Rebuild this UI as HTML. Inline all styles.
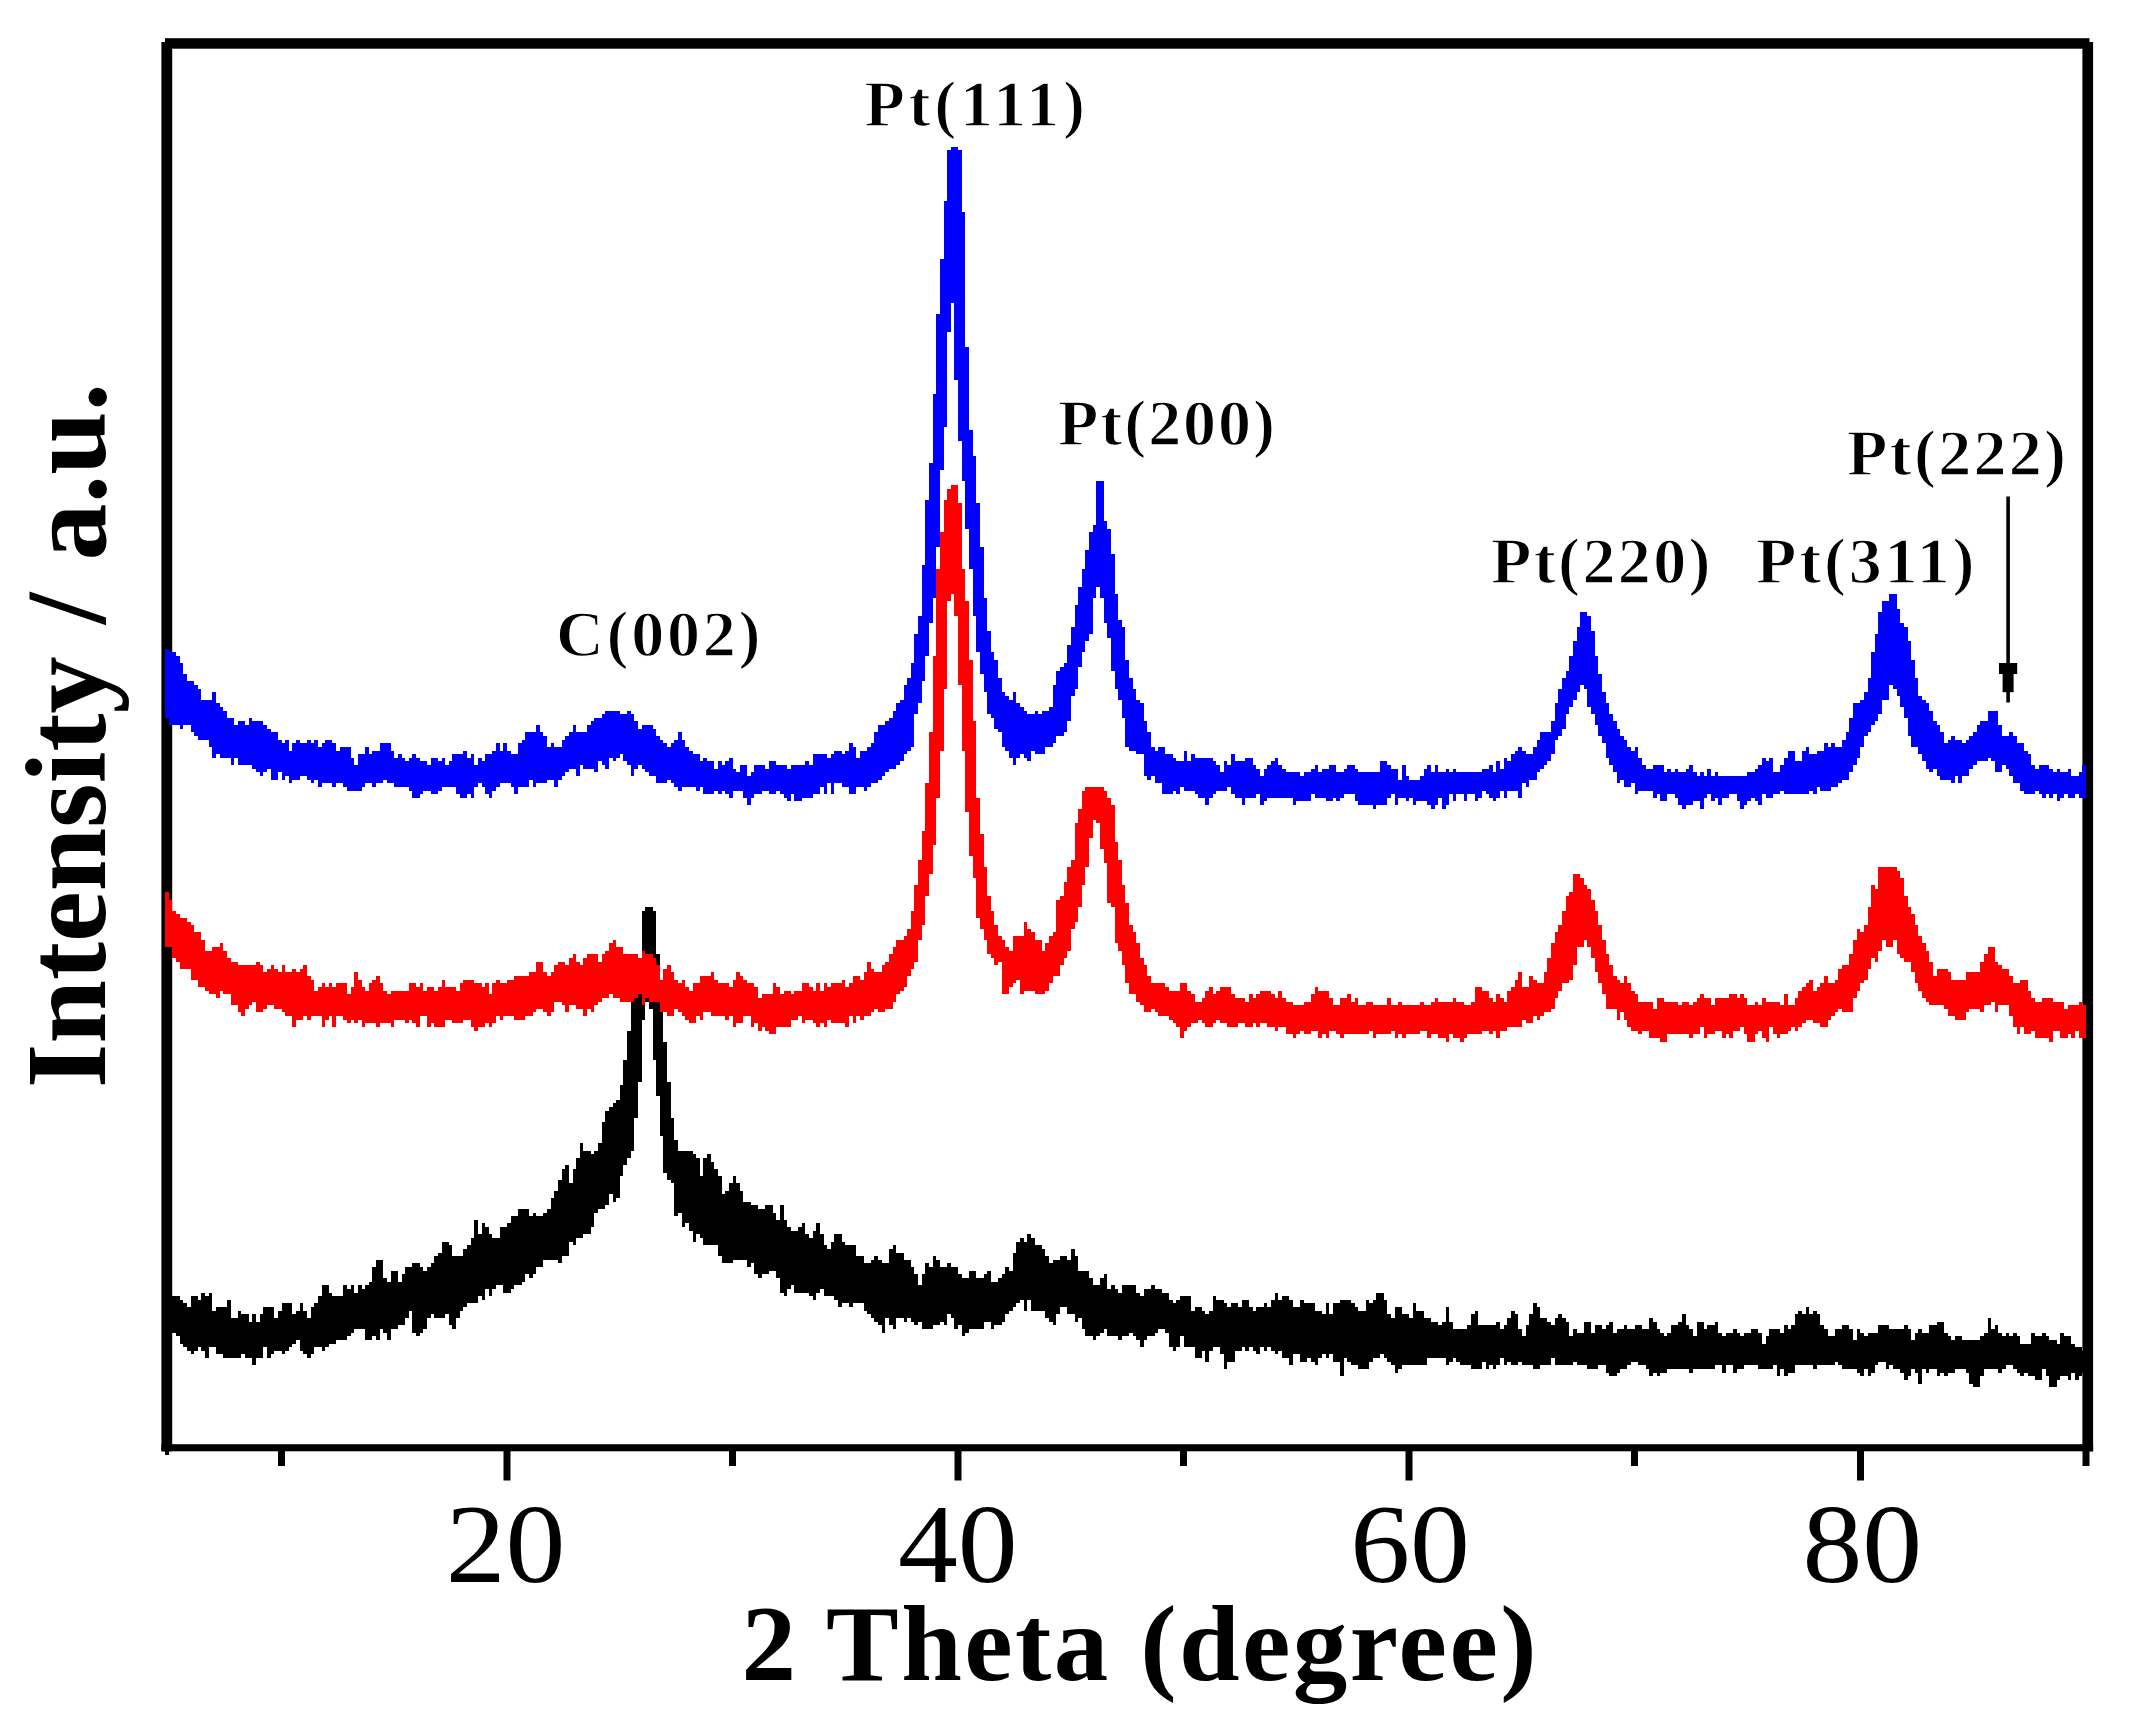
<!DOCTYPE html>
<html><head><meta charset="utf-8"><title>XRD</title>
<style>
html,body{margin:0;padding:0;background:#fff;overflow:hidden;width:2134px;height:1727px}
svg{display:block}
text{font-family:"Liberation Serif", "Times New Roman", serif;fill:#000}
</style></head>
<body>
<svg width="2134" height="1727" viewBox="0 0 2134 1727">
<rect width="2134" height="1727" fill="#fff"/>
<g fill="#000">
<rect x="165" y="38.2" width="1924.5" height="10.5"/>
<rect x="161.4" y="42" width="10.8" height="1409.3"/>
<rect x="2082.4" y="42" width="10.7" height="1409.3"/>
<rect x="161.4" y="1444.2" width="1931.7" height="7.1"/>
<rect x="503.5" y="1448" width="7" height="32.5"/><rect x="954.5" y="1448" width="7" height="32.5"/><rect x="1405.5" y="1448" width="7" height="32.5"/><rect x="1857.0" y="1448" width="7" height="32.5"/><rect x="278.0" y="1448" width="7" height="18"/><rect x="729.0" y="1448" width="7" height="18"/><rect x="1180.0" y="1448" width="7" height="18"/><rect x="1631.0" y="1448" width="7" height="18"/><rect x="165" y="1448" width="4" height="7"/><rect x="2082.5" y="1448" width="7" height="18"/>
<rect x="2006.3" y="496.5" width="3.6" height="206"/>
<rect x="1999" y="663" width="18.2" height="11"/>
<rect x="2002.6" y="674" width="11" height="18.2"/>
</g>
<g transform="translate(1.4 1.2) scale(3.6377)" shape-rendering="crispEdges">
<path fill="#000" d="M46 355h1v9h-1zM47 356h1v10h-1zM48 356h1v11h-1zM49 357h1v12h-1zM50 358h1v12h-1zM51 359h1v12h-1zM52 356h1v16h-1zM53 356h1v15h-1zM54 357h1v13h-1zM55 355h1v16h-1zM56 356h1v17h-1zM57 355h1v15h-1zM58 360h1v10h-1zM59 359h2v13h-2zM61 359h1v14h-1zM62 357h1v16h-1zM63 362h2v11h-2zM65 360h1v13h-1zM66 361h1v11h-1zM67 361h1v12h-1zM68 363h1v10h-1zM69 361h1v14h-1zM70 363h1v10h-1zM71 361h1v12h-1zM72 359h1v11h-1zM73 359h1v14h-1zM74 359h1v13h-1zM75 362h1v9h-1zM76 360h1v11h-1zM77 358h1v14h-1zM78 358h1v13h-1zM79 358h1v12h-1zM80 361h1v8h-1zM81 360h1v8h-1zM82 358h1v13h-1zM83 360h1v12h-1zM84 362h1v11h-1zM85 359h1v13h-1zM86 358h1v12h-1zM87 356h1v14h-1zM88 353h1v18h-1zM89 353h1v17h-1zM90 355h1v14h-1zM91 356h1v13h-1zM92 356h2v12h-2zM94 353h1v15h-1zM95 354h1v13h-1zM96 353h1v13h-1zM97 355h1v10h-1zM98 353h1v12h-1zM99 354h1v11h-1zM100 353h1v15h-1zM101 352h1v16h-1zM102 348h1v19h-1zM103 346h1v22h-1zM104 346h1v19h-1zM105 351h1v15h-1zM106 352h1v16h-1zM107 349h2v16h-2zM109 352h1v12h-1zM110 350h1v14h-1zM111 348h1v14h-1zM112 348h1v12h-1zM113 347h1v19h-1zM114 347h1v20h-1zM115 348h1v18h-1zM116 349h1v16h-1zM117 348h1v14h-1zM118 347h1v14h-1zM119 345h1v17h-1zM120 344h1v18h-1zM121 341h1v21h-1zM122 341h1v20h-1zM123 342h1v22h-1zM124 345h1v20h-1zM125 345h1v17h-1zM126 345h1v15h-1zM127 343h1v16h-1zM128 342h1v16h-1zM129 340h1v18h-1zM130 335h1v23h-1zM131 339h1v17h-1zM132 336h1v21h-1zM133 337h1v17h-1zM134 339h1v17h-1zM135 340h1v14h-1zM136 340h1v13h-1zM137 337h1v16h-1zM138 337h1v18h-1zM139 336h1v19h-1zM140 334h1v20h-1zM141 334h1v19h-1zM142 332h1v21h-1zM143 332h1v20h-1zM144 332h1v18h-1zM145 334h1v17h-1zM146 333h1v17h-1zM147 334h2v14h-2zM149 333h1v13h-1zM150 332h1v14h-1zM151 329h1v17h-1zM152 327h1v19h-1zM153 324h1v23h-1zM154 321h1v24h-1zM155 320h1v25h-1zM156 325h1v16h-1zM157 321h1v21h-1zM158 318h1v22h-1zM159 314h1v26h-1zM160 316h2v23h-2zM162 317h1v20h-1zM163 316h1v17h-1zM164 314h1v18h-1zM165 308h1v24h-1zM166 305h1v26h-1zM167 304h1v24h-1zM168 303h1v27h-1zM169 302h1v27h-1zM170 298h1v25h-1zM171 291h1v29h-1zM172 283h1v35h-1zM173 275h1v41h-1zM174 271h1v36h-1zM175 266h1v31h-1zM176 250h1v30h-1zM177 249h1v26h-1zM178 249h1v28h-1zM179 250h1v41h-1zM180 262h1v39h-1zM181 271h1v41h-1zM182 286h1v36h-1zM183 297h1v27h-1zM184 307h1v18h-1zM185 313h1v21h-1zM186 316h1v17h-1zM187 316h1v21h-1zM188 316h1v20h-1zM189 316h1v22h-1zM190 317h1v24h-1zM191 318h1v21h-1zM192 323h1v17h-1zM193 318h1v24h-1zM194 317h1v25h-1zM195 319h1v23h-1zM196 321h1v21h-1zM197 323h1v22h-1zM198 328h1v19h-1zM199 327h1v20h-1zM200 325h1v22h-1zM201 323h1v23h-1zM202 325h1v21h-1zM203 327h1v19h-1zM204 330h1v16h-1zM205 330h1v18h-1zM206 331h1v16h-1zM207 331h1v19h-1zM208 332h1v19h-1zM209 332h1v18h-1zM210 331h1v19h-1zM211 331h1v18h-1zM212 333h1v16h-1zM213 335h1v16h-1zM214 331h1v24h-1zM215 335h1v21h-1zM216 337h1v17h-1zM217 338h1v15h-1zM218 338h1v17h-1zM219 337h1v18h-1zM220 336h1v19h-1zM221 339h1v16h-1zM222 340h1v16h-1zM223 338h1v19h-1zM224 336h1v19h-1zM225 339h1v15h-1zM226 342h1v14h-1zM227 343h1v13h-1zM228 341h1v15h-1zM229 339h1v18h-1zM230 339h1v20h-1zM231 341h1v17h-1zM232 342h1v16h-1zM233 342h1v17h-1zM234 342h1v16h-1zM235 345h2v13h-2zM237 347h1v13h-1zM238 347h1v14h-1zM239 346h1v16h-1zM240 345h1v18h-1zM241 346h1v18h-1zM242 347h1v19h-1zM243 347h1v15h-1zM244 343h1v21h-1zM245 342h1v23h-1zM246 344h2v18h-2zM248 346h1v17h-1zM249 346h1v16h-1zM250 348h1v15h-1zM251 350h1v14h-1zM252 353h1v10h-1zM253 350h1v15h-1zM254 347h1v18h-1zM255 348h1v17h-1zM256 345h1v19h-1zM257 346h1v18h-1zM258 348h1v15h-1zM259 348h1v16h-1zM260 347h1v14h-1zM261 348h1v14h-1zM262 348h1v17h-1zM263 350h1v14h-1zM264 351h1v16h-1zM265 351h1v15h-1zM266 349h2v16h-2zM268 351h2v14h-2zM270 350h1v13h-1zM271 349h1v14h-1zM272 352h1v13h-1zM273 352h1v12h-1zM274 351h1v13h-1zM275 350h1v13h-1zM276 348h1v13h-1zM277 349h1v11h-1zM278 344h1v15h-1zM279 341h1v17h-1zM280 340h1v17h-1zM281 341h1v19h-1zM282 339h1v18h-1zM283 340h1v20h-1zM284 342h2v18h-2zM286 343h1v17h-1zM287 345h1v17h-1zM288 347h1v16h-1zM289 346h1v18h-1zM290 346h1v15h-1zM291 345h2v14h-2zM293 346h1v15h-1zM294 343h1v18h-1zM295 345h1v18h-1zM296 349h1v13h-1zM297 349h1v16h-1zM298 349h1v18h-1zM299 351h1v16h-1zM300 353h1v15h-1zM301 353h1v14h-1zM302 351h1v15h-1zM303 350h1v15h-1zM304 354h1v13h-1zM305 353h1v14h-1zM306 354h1v13h-1zM307 355h1v13h-1zM308 353h2v14h-2zM310 353h1v13h-1zM311 353h1v14h-1zM312 355h1v13h-1zM313 356h1v14h-1zM314 354h1v14h-1zM315 354h1v13h-1zM316 353h1v14h-1zM317 354h1v12h-1zM318 354h1v11h-1zM319 355h1v10h-1zM320 355h1v11h-1zM321 357h1v13h-1zM322 358h1v13h-1zM323 357h1v13h-1zM324 356h1v11h-1zM325 356h2v14h-2zM327 360h1v10h-1zM328 359h2v14h-2zM330 360h1v11h-1zM331 361h1v13h-1zM332 360h1v11h-1zM333 356h1v14h-1zM334 357h1v13h-1zM335 357h1v15h-1zM336 358h1v18h-1zM337 359h1v15h-1zM338 358h1v16h-1zM339 358h1v13h-1zM340 359h1v12h-1zM341 357h1v13h-1zM342 357h1v14h-1zM343 359h1v11h-1zM344 360h1v11h-1zM345 359h1v13h-1zM346 359h1v11h-1zM347 358h1v13h-1zM348 359h1v11h-1zM349 357h1v14h-1zM350 355h1v17h-1zM351 357h1v14h-1zM352 356h2v17h-2zM354 357h1v18h-1zM355 359h2v13h-2zM357 357h1v17h-1zM358 358h1v16h-1zM359 358h1v15h-1zM360 358h1v16h-1zM361 360h1v15h-1zM362 360h1v13h-1zM363 361h1v11h-1zM364 358h1v15h-1zM365 361h1v11h-1zM366 358h2v16h-2zM368 357h1v21h-1zM369 357h1v16h-1zM370 357h1v17h-1zM371 358h1v17h-1zM372 359h1v16h-1zM373 360h2v16h-2zM375 357h1v19h-1zM376 358h1v16h-1zM377 357h1v16h-1zM378 355h1v18h-1zM379 355h1v17h-1zM380 357h1v16h-1zM381 361h1v13h-1zM382 362h1v13h-1zM383 359h1v18h-1zM384 359h1v17h-1zM385 361h2v14h-2zM387 362h1v13h-1zM388 358h1v17h-1zM389 360h2v15h-2zM391 362h1v13h-1zM392 362h1v11h-1zM393 363h2v10h-2zM395 364h1v9h-1zM396 363h1v10h-1zM397 359h1v16h-1zM398 363h1v11h-1zM399 365h1v8h-1zM400 365h1v9h-1zM401 365h2v10h-2zM403 364h1v11h-1zM404 361h1v15h-1zM405 360h1v16h-1zM406 364h1v12h-1zM407 364h1v10h-1zM408 364h1v12h-1zM409 364h1v11h-1zM410 364h1v12h-1zM411 363h1v12h-1zM412 365h1v8h-1zM413 364h1v11h-1zM414 362h1v12h-1zM415 360h1v15h-1zM416 361h1v14h-1zM417 365h1v9h-1zM418 367h1v8h-1zM419 364h1v11h-1zM420 361h1v14h-1zM421 358h1v18h-1zM422 359h1v17h-1zM423 362h2v13h-2zM425 363h1v12h-1zM426 364h1v9h-1zM427 362h1v13h-1zM428 361h1v14h-1zM429 362h1v13h-1zM430 363h1v12h-1zM431 367h1v8h-1zM432 365h1v9h-1zM433 366h2v9h-2zM435 363h1v12h-1zM436 363h1v13h-1zM437 366h1v10h-1zM438 364h1v12h-1zM439 364h1v11h-1zM440 365h1v10h-1zM441 364h1v13h-1zM442 363h1v15h-1zM443 366h1v12h-1zM444 365h1v12h-1zM445 365h1v11h-1zM446 364h1v12h-1zM447 365h1v10h-1zM448 365h1v9h-1zM449 364h1v10h-1zM450 364h1v11h-1zM451 365h1v10h-1zM452 365h1v11h-1zM453 362h1v16h-1zM454 363h1v14h-1zM455 365h1v13h-1zM456 366h1v11h-1zM457 367h1v10h-1zM458 366h1v10h-1zM459 364h2v12h-2zM461 363h1v13h-1zM462 361h1v15h-1zM463 364h1v12h-1zM464 365h1v12h-1zM465 367h1v9h-1zM466 363h2v13h-2zM468 365h1v11h-1zM469 364h2v12h-2zM471 363h1v12h-1zM472 366h1v9h-1zM473 367h1v10h-1zM474 366h2v9h-2zM476 365h1v12h-1zM477 366h1v10h-1zM478 367h1v9h-1zM479 366h2v9h-2zM481 365h2v10h-2zM483 366h1v10h-1zM484 369h1v7h-1zM485 367h1v9h-1zM486 365h1v11h-1zM487 365h1v10h-1zM488 365h1v13h-1zM489 366h1v10h-1zM490 364h1v14h-1zM491 365h1v12h-1zM492 364h1v13h-1zM493 361h1v14h-1zM494 360h1v15h-1zM495 361h1v14h-1zM496 359h1v16h-1zM497 361h1v14h-1zM498 360h1v16h-1zM499 361h1v14h-1zM500 364h1v11h-1zM501 365h1v10h-1zM502 367h2v8h-2zM504 365h1v9h-1zM505 365h1v10h-1zM506 364h2v12h-2zM508 365h1v11h-1zM509 368h1v8h-1zM510 365h1v12h-1zM511 366h1v12h-1zM512 367h1v9h-1zM513 366h1v12h-1zM514 366h1v11h-1zM515 366h1v9h-1zM516 364h2v10h-2zM518 364h1v12h-1zM519 365h1v10h-1zM520 365h2v11h-2zM522 365h1v12h-1zM523 364h1v15h-1zM524 365h1v13h-1zM525 368h1v8h-1zM526 366h1v11h-1zM527 365h1v15h-1zM528 366h1v10h-1zM529 366h1v11h-1zM530 364h2v12h-2zM532 363h1v15h-1zM533 363h1v14h-1zM534 366h1v12h-1zM535 367h1v10h-1zM536 368h1v9h-1zM537 367h2v9h-2zM539 368h1v8h-1zM540 368h1v9h-1zM541 368h1v12h-1zM542 368h2v13h-2zM544 367h1v11h-1zM545 366h1v10h-1zM546 362h1v14h-1zM547 365h1v11h-1zM548 364h1v12h-1zM549 366h1v11h-1zM550 367h1v9h-1zM551 366h1v9h-1zM552 367h1v8h-1zM553 366h1v10h-1zM554 367h1v10h-1zM555 369h1v9h-1zM556 369h1v8h-1zM557 369h1v9h-1zM558 366h1v12h-1zM559 367h2v12h-2zM561 366h1v10h-1zM562 367h1v11h-1zM563 368h2v13h-2zM565 369h1v10h-1zM566 366h1v12h-1zM567 367h1v11h-1zM568 367h1v12h-1zM569 369h1v8h-1zM570 370h1v9h-1zM571 370h1v8h-1zM572 371h1v6h-1z"/>
<path fill="#fe0000" d="M45 245h1v15h-1zM46 247h1v13h-1zM47 250h1v13h-1zM48 251h1v13h-1zM49 252h2v14h-2zM51 253h1v13h-1zM52 254h1v15h-1zM53 256h1v13h-1zM54 256h1v15h-1zM55 258h1v13h-1zM56 261h1v11h-1zM57 261h1v12h-1zM58 260h1v13h-1zM59 260h1v14h-1zM60 259h1v13h-1zM61 261h1v12h-1zM62 263h1v10h-1zM63 264h2v12h-2zM65 265h1v13h-1zM66 265h1v14h-1zM67 265h1v12h-1zM68 265h1v11h-1zM69 265h1v10h-1zM70 264h1v14h-1zM71 265h1v13h-1zM72 267h1v10h-1zM73 266h1v10h-1zM74 265h1v11h-1zM75 266h1v11h-1zM76 267h1v10h-1zM77 265h1v13h-1zM78 267h2v12h-2zM80 266h1v16h-1zM81 267h1v13h-1zM82 266h1v14h-1zM83 265h1v14h-1zM84 268h1v12h-1zM85 269h1v10h-1zM86 272h1v7h-1zM87 271h1v8h-1zM88 270h1v12h-1zM89 271h1v9h-1zM90 270h1v9h-1zM91 271h1v11h-1zM92 270h2v9h-2zM94 270h1v10h-1zM95 273h1v8h-1zM96 271h1v9h-1zM97 267h1v14h-1zM98 269h1v11h-1zM99 271h1v11h-1zM100 272h1v9h-1zM101 270h1v11h-1zM102 269h1v12h-1zM103 268h1v14h-1zM104 270h1v11h-1zM105 272h1v9h-1zM106 273h1v8h-1zM107 272h1v10h-1zM108 272h3v8h-3zM111 272h1v9h-1zM112 270h1v10h-1zM113 270h1v11h-1zM114 271h1v11h-1zM115 270h1v9h-1zM116 272h1v7h-1zM117 271h1v11h-1zM118 271h1v10h-1zM119 272h1v10h-1zM120 271h1v11h-1zM121 269h1v13h-1zM122 271h2v9h-2zM124 271h1v10h-1zM125 272h1v9h-1zM126 270h1v11h-1zM127 269h2v11h-2zM129 269h1v13h-1zM130 270h1v13h-1zM131 270h1v12h-1zM132 271h1v11h-1zM133 270h1v11h-1zM134 273h1v9h-1zM135 270h1v11h-1zM136 269h1v10h-1zM137 270h1v10h-1zM138 270h1v9h-1zM139 269h2v10h-2zM141 268h3v12h-3zM144 268h1v11h-1zM145 267h1v12h-1zM146 267h1v11h-1zM147 264h2v13h-2zM149 267h1v11h-1zM150 268h1v11h-1zM151 267h1v11h-1zM152 265h1v10h-1zM153 264h1v11h-1zM154 264h1v12h-1zM155 265h1v13h-1zM156 263h1v13h-1zM157 262h1v14h-1zM158 264h1v13h-1zM159 265h1v12h-1zM160 263h1v16h-1zM161 262h1v15h-1zM162 262h1v16h-1zM163 262h1v14h-1zM164 264h1v11h-1zM165 262h1v12h-1zM166 261h1v13h-1zM167 259h1v14h-1zM168 258h1v16h-1zM169 260h1v14h-1zM170 260h1v15h-1zM171 262h3v13h-3zM174 262h1v12h-1zM175 263h1v10h-1zM176 261h1v15h-1zM177 262h1v12h-1zM178 262h1v13h-1zM179 263h1v12h-1zM180 265h1v10h-1zM181 269h1v9h-1zM182 266h1v12h-1zM183 265h1v14h-1zM184 267h1v12h-1zM185 269h1v8h-1zM186 270h1v8h-1zM187 269h1v10h-1zM188 271h1v9h-1zM189 272h1v9h-1zM190 270h1v11h-1zM191 270h1v9h-1zM192 268h1v12h-1zM193 268h2v10h-2zM195 267h1v12h-1zM196 269h1v10h-1zM197 270h2v9h-2zM199 270h1v10h-1zM200 271h1v8h-1zM201 269h1v13h-1zM202 267h1v14h-1zM203 268h1v13h-1zM204 269h1v10h-1zM205 270h1v9h-1zM206 270h1v12h-1zM207 271h1v10h-1zM208 274h1v9h-1zM209 273h1v9h-1zM210 273h1v10h-1zM211 273h1v11h-1zM212 270h1v14h-1zM213 271h1v11h-1zM214 273h1v9h-1zM215 272h2v10h-2zM217 273h1v7h-1zM218 272h1v8h-1zM219 272h1v7h-1zM220 270h1v11h-1zM221 270h1v10h-1zM222 271h1v9h-1zM223 272h1v9h-1zM224 270h1v12h-1zM225 272h1v9h-1zM226 270h1v12h-1zM227 271h1v9h-1zM228 270h3v11h-3zM231 269h1v12h-1zM232 271h1v11h-1zM233 270h1v9h-1zM234 268h1v13h-1zM235 268h1v11h-1zM236 269h1v11h-1zM237 267h1v12h-1zM238 264h1v15h-1zM239 266h1v12h-1zM240 267h1v10h-1zM241 267h1v11h-1zM242 265h1v13h-1zM243 264h1v13h-1zM244 262h1v15h-1zM245 260h1v15h-1zM246 258h1v15h-1zM247 258h1v14h-1zM248 257h1v14h-1zM249 255h1v13h-1zM250 250h1v16h-1zM251 243h1v21h-1zM252 236h1v22h-1zM253 228h1v26h-1zM254 215h1v31h-1zM255 201h1v39h-1zM256 180h1v52h-1zM257 156h1v63h-1zM258 146h1v60h-1zM259 137h1v52h-1zM260 134h1v31h-1zM261 133h1v30h-1zM262 133h1v36h-1zM263 138h1v50h-1zM264 156h1v50h-1zM265 165h1v58h-1zM266 181h1v54h-1zM267 198h1v43h-1zM268 219h1v33h-1zM269 229h1v26h-1zM270 238h1v20h-1zM271 246h1v16h-1zM272 250h1v13h-1zM273 254h1v11h-1zM274 257h1v7h-1zM275 258h1v15h-1zM276 260h1v13h-1zM277 261h1v10h-1zM278 257h1v13h-1zM279 257h1v12h-1zM280 257h1v16h-1zM281 253h1v19h-1zM282 255h1v17h-1zM283 256h1v16h-1zM284 258h2v15h-2zM286 261h1v12h-1zM287 259h1v13h-1zM288 257h1v13h-1zM289 256h1v12h-1zM290 247h1v21h-1zM291 246h1v19h-1zM292 242h1v21h-1zM293 238h1v23h-1zM294 236h1v19h-1zM295 226h1v27h-1zM296 222h1v27h-1zM297 217h1v26h-1zM298 216h1v22h-1zM299 216h1v14h-1zM300 216h1v9h-1zM301 216h1v10h-1zM302 216h1v17h-1zM303 217h1v20h-1zM304 219h1v29h-1zM305 221h1v28h-1zM306 231h1v28h-1zM307 236h1v25h-1zM308 243h1v22h-1zM309 248h1v22h-1zM310 254h1v19h-1zM311 256h1v17h-1zM312 259h1v16h-1zM313 263h1v13h-1zM314 265h1v13h-1zM315 268h1v10h-1zM316 270h1v7h-1zM317 270h1v8h-1zM318 270h2v9h-2zM320 271h1v8h-1zM321 272h1v8h-1zM322 272h1v9h-1zM323 272h1v10h-1zM324 270h1v15h-1zM325 270h1v13h-1zM326 272h1v10h-1zM327 273h1v8h-1zM328 275h1v6h-1zM329 275h1v5h-1zM330 274h1v7h-1zM331 272h1v10h-1zM332 271h1v11h-1zM333 273h1v8h-1zM334 272h1v8h-1zM335 271h2v10h-2zM337 271h1v11h-1zM338 273h1v9h-1zM339 274h1v8h-1zM340 274h2v7h-2zM342 275h1v7h-1zM343 273h1v9h-1zM344 274h1v7h-1zM345 273h1v9h-1zM346 272h2v9h-2zM348 272h1v10h-1zM349 273h1v9h-1zM350 274h1v9h-1zM351 272h1v10h-1zM352 274h1v8h-1zM353 275h2v9h-2zM355 276h1v9h-1zM356 276h1v8h-1zM357 276h1v7h-1zM358 275h2v9h-2zM360 273h1v10h-1zM361 271h1v12h-1zM362 272h1v13h-1zM363 272h1v12h-1zM364 272h1v13h-1zM365 274h1v9h-1zM366 276h1v7h-1zM367 276h1v8h-1zM368 274h1v11h-1zM369 274h1v10h-1zM370 273h1v11h-1zM371 275h1v9h-1zM372 274h1v10h-1zM373 276h2v8h-2zM375 275h1v9h-1zM376 275h1v8h-1zM377 276h1v9h-1zM378 276h3v8h-3zM381 274h1v10h-1zM382 276h1v7h-1zM383 276h1v9h-1zM384 275h1v9h-1zM385 276h1v9h-1zM386 276h4v8h-4zM390 275h1v8h-1zM391 276h1v7h-1zM392 276h1v9h-1zM393 275h1v9h-1zM394 274h1v10h-1zM395 275h2v10h-2zM397 275h1v11h-1zM398 275h1v9h-1zM399 274h1v11h-1zM400 275h1v10h-1zM401 275h1v11h-1zM402 276h1v9h-1zM403 276h1v8h-1zM404 275h1v9h-1zM405 271h2v13h-2zM407 272h2v11h-2zM409 274h1v10h-1zM410 275h1v8h-1zM411 273h1v12h-1zM412 274h1v9h-1zM413 275h1v8h-1zM414 272h1v10h-1zM415 271h1v11h-1zM416 269h1v13h-1zM417 267h1v15h-1zM418 271h1v9h-1zM419 271h1v10h-1zM420 268h1v13h-1zM421 269h1v10h-1zM422 270h1v10h-1zM423 270h1v9h-1zM424 267h1v11h-1zM425 263h1v15h-1zM426 259h1v18h-1zM427 256h1v18h-1zM428 254h1v18h-1zM429 250h1v20h-1zM430 246h1v24h-1zM431 245h1v24h-1zM432 240h1v25h-1zM433 240h1v20h-1zM434 241h1v19h-1zM435 243h1v15h-1zM436 244h1v16h-1zM437 247h1v16h-1zM438 250h1v17h-1zM439 254h1v16h-1zM440 258h1v15h-1zM441 262h1v15h-1zM442 265h1v12h-1zM443 268h1v9h-1zM444 269h1v11h-1zM445 270h1v8h-1zM446 268h1v12h-1zM447 270h1v12h-1zM448 272h1v11h-1zM449 273h1v10h-1zM450 275h1v9h-1zM451 275h2v8h-2zM453 275h1v10h-1zM454 277h1v8h-1zM455 274h1v11h-1zM456 274h1v12h-1zM457 275h1v11h-1zM458 275h3v9h-3zM461 276h1v8h-1zM462 275h2v9h-2zM464 276h1v9h-1zM465 275h1v9h-1zM466 274h1v10h-1zM467 273h1v9h-1zM468 274h1v11h-1zM469 274h1v10h-1zM470 276h1v8h-1zM471 274h2v9h-2zM473 274h1v11h-1zM474 274h1v10h-1zM475 273h1v12h-1zM476 273h1v10h-1zM477 274h1v9h-1zM478 273h1v9h-1zM479 274h1v10h-1zM480 276h2v10h-2zM482 275h1v9h-1zM483 276h1v7h-1zM484 274h1v11h-1zM485 275h1v11h-1zM486 275h1v7h-1zM487 275h1v9h-1zM488 275h1v10h-1zM489 276h1v8h-1zM490 273h1v11h-1zM491 276h1v7h-1zM492 276h1v6h-1zM493 274h1v9h-1zM494 272h1v10h-1zM495 271h1v10h-1zM496 270h1v10h-1zM497 269h1v11h-1zM498 272h1v9h-1zM499 271h1v10h-1zM500 270h1v12h-1zM501 268h1v14h-1zM502 270h1v10h-1zM503 270h1v9h-1zM504 269h1v9h-1zM505 266h1v11h-1zM506 265h2v13h-2zM508 262h1v16h-1zM509 258h1v16h-1zM510 255h1v17h-1zM511 256h1v14h-1zM512 254h1v15h-1zM513 249h1v17h-1zM514 243h1v20h-1zM515 244h1v20h-1zM516 238h1v23h-1zM517 238h1v20h-1zM518 238h2v22h-2zM520 238h1v20h-1zM521 239h1v23h-1zM522 241h1v22h-1zM523 246h1v18h-1zM524 249h1v15h-1zM525 251h1v16h-1zM526 254h1v16h-1zM527 257h1v15h-1zM528 259h1v15h-1zM529 261h1v14h-1zM530 264h1v12h-1zM531 268h1v8h-1zM532 266h2v10h-2zM534 266h1v11h-1zM535 267h1v12h-1zM536 269h1v10h-1zM537 269h3v11h-3zM540 267h1v11h-1zM541 267h3v10h-3zM544 264h1v14h-1zM545 262h1v14h-1zM546 260h1v16h-1zM547 260h1v15h-1zM548 264h1v14h-1zM549 265h1v11h-1zM550 266h2v10h-2zM552 268h1v11h-1zM553 270h1v12h-1zM554 270h1v14h-1zM555 269h1v13h-1zM556 269h1v15h-1zM557 272h1v12h-1zM558 274h1v9h-1zM559 275h2v10h-2zM561 274h2v11h-2zM563 274h1v12h-1zM564 275h2v8h-2zM566 275h1v10h-1zM567 277h1v8h-1zM568 276h1v8h-1zM569 276h1v9h-1zM570 276h1v7h-1zM571 275h1v10h-1zM572 276h1v9h-1z"/>
<path fill="#0000fe" d="M45 178h1v19h-1zM46 179h2v20h-2zM48 180h1v19h-1zM49 182h1v18h-1zM50 185h1v14h-1zM51 187h1v12h-1zM52 187h1v14h-1zM53 188h1v14h-1zM54 189h1v14h-1zM55 192h2v11h-2zM57 192h1v13h-1zM58 190h1v18h-1zM59 193h1v14h-1zM60 194h1v14h-1zM61 195h1v13h-1zM62 197h1v11h-1zM63 197h1v13h-1zM64 199h1v9h-1zM65 198h2v12h-2zM67 199h1v11h-1zM68 197h1v13h-1zM69 198h1v13h-1zM70 198h1v14h-1zM71 198h1v15h-1zM72 199h1v13h-1zM73 200h1v11h-1zM74 201h2v13h-2zM76 203h1v9h-1zM77 204h1v10h-1zM78 203h1v10h-1zM79 206h1v9h-1zM80 204h1v10h-1zM81 203h1v11h-1zM82 204h2v9h-2zM84 203h1v11h-1zM85 204h1v11h-1zM86 203h1v11h-1zM87 205h1v11h-1zM88 204h1v11h-1zM89 203h2v12h-2zM91 204h1v12h-1zM92 206h1v9h-1zM93 205h1v10h-1zM94 205h1v11h-1zM95 205h1v12h-1zM96 208h1v9h-1zM97 210h1v7h-1zM98 207h1v10h-1zM99 207h1v9h-1zM100 205h1v10h-1zM101 207h1v8h-1zM102 206h1v10h-1zM103 206h1v9h-1zM104 204h1v11h-1zM105 204h1v10h-1zM106 204h1v11h-1zM107 206h1v9h-1zM108 208h1v8h-1zM109 207h1v9h-1zM110 208h1v8h-1zM111 209h1v7h-1zM112 208h1v9h-1zM113 207h1v12h-1zM114 208h1v11h-1zM115 209h1v9h-1zM116 209h1v8h-1zM117 210h1v7h-1zM118 208h2v10h-2zM120 209h1v8h-1zM121 208h1v8h-1zM122 210h1v6h-1zM123 209h1v7h-1zM124 207h1v9h-1zM125 207h1v11h-1zM126 207h1v12h-1zM127 206h1v13h-1zM128 208h1v10h-1zM129 207h1v12h-1zM130 210h1v6h-1zM131 208h1v7h-1zM132 209h1v7h-1zM133 207h1v11h-1zM134 207h1v12h-1zM135 206h1v11h-1zM136 204h1v12h-1zM137 206h1v9h-1zM138 204h1v11h-1zM139 206h1v9h-1zM140 207h1v9h-1zM141 207h1v11h-1zM142 204h1v12h-1zM143 203h1v13h-1zM144 201h1v15h-1zM145 201h1v13h-1zM146 201h1v15h-1zM147 199h1v16h-1zM148 201h1v14h-1zM149 202h1v13h-1zM150 205h1v9h-1zM151 204h1v10h-1zM152 205h1v11h-1zM153 205h1v9h-1zM154 203h1v10h-1zM155 202h1v10h-1zM156 201h1v10h-1zM157 199h1v12h-1zM158 201h1v12h-1zM159 201h1v9h-1zM160 201h1v10h-1zM161 199h1v12h-1zM162 198h1v13h-1zM163 197h1v15h-1zM164 197h1v12h-1zM165 196h1v14h-1zM166 195h1v16h-1zM167 195h1v13h-1zM168 195h1v14h-1zM169 195h1v13h-1zM170 196h1v11h-1zM171 196h1v13h-1zM172 195h1v15h-1zM173 196h1v17h-1zM174 198h1v13h-1zM175 200h1v10h-1zM176 199h1v12h-1zM177 199h1v13h-1zM178 199h1v14h-1zM179 200h1v13h-1zM180 202h1v13h-1zM181 203h1v12h-1zM182 204h1v11h-1zM183 205h1v9h-1zM184 204h1v11h-1zM185 203h1v13h-1zM186 201h1v16h-1zM187 203h1v13h-1zM188 205h1v11h-1zM189 206h1v10h-1zM190 207h1v9h-1zM191 207h1v10h-1zM192 209h1v7h-1zM193 208h1v10h-1zM194 209h2v9h-2zM196 211h1v6h-1zM197 209h1v9h-1zM198 210h1v7h-1zM199 209h1v9h-1zM200 208h1v11h-1zM201 211h1v6h-1zM202 212h1v5h-1zM203 210h1v7h-1zM204 210h1v9h-1zM205 213h1v8h-1zM206 212h1v7h-1zM207 210h2v8h-2zM209 210h1v7h-1zM210 211h1v6h-1zM211 209h2v9h-2zM213 210h1v7h-1zM214 210h1v8h-1zM215 210h1v9h-1zM216 211h1v9h-1zM217 210h1v8h-1zM218 210h2v10h-2zM220 210h1v9h-1zM221 209h1v10h-1zM222 210h1v9h-1zM223 207h2v11h-2zM225 207h1v9h-1zM226 207h1v11h-1zM227 208h1v7h-1zM228 207h1v11h-1zM229 206h2v9h-2zM231 207h1v9h-1zM232 206h1v10h-1zM233 204h1v14h-1zM234 205h1v13h-1zM235 208h1v8h-1zM236 206h1v10h-1zM237 206h1v11h-1zM238 205h1v11h-1zM239 204h1v11h-1zM240 201h1v14h-1zM241 199h1v15h-1zM242 199h1v14h-1zM243 198h1v14h-1zM244 197h1v14h-1zM245 195h1v16h-1zM246 193h1v17h-1zM247 192h1v17h-1zM248 188h1v19h-1zM249 186h1v20h-1zM250 182h1v23h-1zM251 174h1v22h-1zM252 169h1v24h-1zM253 155h1v32h-1zM254 137h1v43h-1zM255 127h1v44h-1zM256 108h1v56h-1zM257 86h1v64h-1zM258 71h1v58h-1zM259 55h1v62h-1zM260 41h1v50h-1zM261 40h1v43h-1zM262 40h1v64h-1zM263 41h1v80h-1zM264 58h1v74h-1zM265 95h1v50h-1zM266 118h1v38h-1zM267 125h1v44h-1zM268 138h1v41h-1zM269 150h1v35h-1zM270 164h1v26h-1zM271 173h1v23h-1zM272 179h1v18h-1zM273 181h1v19h-1zM274 186h1v15h-1zM275 190h1v15h-1zM276 191h1v15h-1zM277 192h1v16h-1zM278 190h1v20h-1zM279 193h1v15h-1zM280 194h1v13h-1zM281 195h1v13h-1zM282 196h1v13h-1zM283 196h1v10h-1zM284 195h1v12h-1zM285 196h1v11h-1zM286 195h1v12h-1zM287 195h1v10h-1zM288 194h1v11h-1zM289 188h1v16h-1zM290 184h1v18h-1zM291 183h1v19h-1zM292 182h1v19h-1zM293 177h1v21h-1zM294 172h1v19h-1zM295 166h1v23h-1zM296 161h1v22h-1zM297 156h1v23h-1zM298 151h1v25h-1zM299 146h1v28h-1zM300 144h1v20h-1zM301 132h1v29h-1zM302 132h1v32h-1zM303 143h1v28h-1zM304 145h1v30h-1zM305 152h1v32h-1zM306 163h1v26h-1zM307 170h1v22h-1zM308 172h1v25h-1zM309 181h1v24h-1zM310 186h1v20h-1zM311 189h1v17h-1zM312 192h1v15h-1zM313 193h1v14h-1zM314 198h1v15h-1zM315 201h1v13h-1zM316 205h1v8h-1zM317 206h1v9h-1zM318 205h1v10h-1zM319 205h1v13h-1zM320 207h2v11h-2zM322 208h1v9h-1zM323 209h1v9h-1zM324 209h1v7h-1zM325 206h1v11h-1zM326 209h1v8h-1zM327 207h1v10h-1zM328 208h1v10h-1zM329 208h2v11h-2zM331 208h1v13h-1zM332 208h1v11h-1zM333 209h1v9h-1zM334 210h1v7h-1zM335 212h1v5h-1zM336 209h1v8h-1zM337 210h1v6h-1zM338 207h1v11h-1zM339 209h2v10h-2zM341 209h1v12h-1zM342 208h2v11h-2zM344 210h1v9h-1zM345 211h1v7h-1zM346 213h1v8h-1zM347 211h1v9h-1zM348 210h1v9h-1zM349 209h1v10h-1zM350 208h1v11h-1zM351 210h1v9h-1zM352 211h1v8h-1zM353 212h2v7h-2zM355 212h1v9h-1zM356 212h1v8h-1zM357 213h1v7h-1zM358 212h2v8h-2zM360 211h1v7h-1zM361 210h1v9h-1zM362 212h1v7h-1zM363 211h1v8h-1zM364 211h1v9h-1zM365 210h1v10h-1zM366 210h1v9h-1zM367 212h1v8h-1zM368 212h1v7h-1zM369 211h1v7h-1zM370 210h2v8h-2zM372 211h1v9h-1zM373 212h4v9h-4zM377 212h1v10h-1zM378 212h1v9h-1zM379 209h2v12h-2zM381 210h1v9h-1zM382 211h1v7h-1zM383 211h1v10h-1zM384 214h1v5h-1zM385 210h1v9h-1zM386 213h1v7h-1zM387 214h1v5h-1zM388 214h1v7h-1zM389 214h1v6h-1zM390 213h1v7h-1zM391 211h1v9h-1zM392 210h1v11h-1zM393 212h1v10h-1zM394 210h1v11h-1zM395 212h1v7h-1zM396 212h1v10h-1zM397 211h1v10h-1zM398 212h1v6h-1zM399 211h1v9h-1zM400 212h2v6h-2zM402 212h1v8h-1zM403 212h2v6h-2zM405 212h1v8h-1zM406 212h1v7h-1zM407 211h1v6h-1zM408 211h1v7h-1zM409 210h1v9h-1zM410 212h1v8h-1zM411 209h1v10h-1zM412 211h1v6h-1zM413 208h1v11h-1zM414 209h1v8h-1zM415 207h1v10h-1zM416 206h1v11h-1zM417 205h1v14h-1zM418 206h1v9h-1zM419 207h1v9h-1zM420 207h1v7h-1zM421 205h1v9h-1zM422 203h1v9h-1zM423 201h1v10h-1zM424 201h1v9h-1zM425 201h1v8h-1zM426 198h1v9h-1zM427 193h1v10h-1zM428 189h1v13h-1zM429 186h1v14h-1zM430 184h1v12h-1zM431 180h1v14h-1zM432 176h1v16h-1zM433 172h1v18h-1zM434 168h1v20h-1zM435 168h1v21h-1zM436 169h1v25h-1zM437 173h1v23h-1zM438 180h1v19h-1zM439 185h1v17h-1zM440 190h1v14h-1zM441 193h1v15h-1zM442 196h1v14h-1zM443 198h1v14h-1zM444 200h1v15h-1zM445 202h1v12h-1zM446 203h1v13h-1zM447 205h1v11h-1zM448 206h1v9h-1zM449 205h1v13h-1zM450 208h1v9h-1zM451 210h1v7h-1zM452 211h2v6h-2zM454 210h1v9h-1zM455 210h1v8h-1zM456 210h1v10h-1zM457 212h1v8h-1zM458 211h1v7h-1zM459 212h1v6h-1zM460 211h1v8h-1zM461 212h1v9h-1zM462 212h1v10h-1zM463 211h1v10h-1zM464 210h1v11h-1zM465 212h1v8h-1zM466 213h1v7h-1zM467 212h1v10h-1zM468 213h1v6h-1zM469 211h1v7h-1zM470 213h1v7h-1zM471 212h1v7h-1zM472 213h1v8h-1zM473 213h2v6h-2zM475 213h2v5h-2zM477 213h1v7h-1zM478 213h1v9h-1zM479 213h1v8h-1zM480 212h1v8h-1zM481 212h1v7h-1zM482 211h1v9h-1zM483 210h1v11h-1zM484 208h1v10h-1zM485 209h1v10h-1zM486 208h1v11h-1zM487 212h2v6h-2zM489 210h1v7h-1zM490 208h1v10h-1zM491 206h2v12h-2zM493 209h2v9h-2zM495 206h1v12h-1zM496 205h1v13h-1zM497 207h1v10h-1zM498 207h1v11h-1zM499 206h1v10h-1zM500 206h1v11h-1zM501 204h1v13h-1zM502 205h1v12h-1zM503 204h1v12h-1zM504 205h1v11h-1zM505 205h1v10h-1zM506 203h1v11h-1zM507 201h1v13h-1zM508 197h1v15h-1zM509 193h1v17h-1zM510 193h1v15h-1zM511 192h1v13h-1zM512 190h1v12h-1zM513 186h1v15h-1zM514 179h1v20h-1zM515 174h1v24h-1zM516 168h1v28h-1zM517 165h2v27h-2zM519 163h1v25h-1zM520 163h1v26h-1zM521 167h1v24h-1zM522 171h1v23h-1zM523 172h1v25h-1zM524 176h1v26h-1zM525 181h1v24h-1zM526 186h1v19h-1zM527 191h1v16h-1zM528 192h1v17h-1zM529 193h1v18h-1zM530 195h1v17h-1zM531 198h1v13h-1zM532 199h1v14h-1zM533 201h1v13h-1zM534 204h1v10h-1zM535 203h1v11h-1zM536 202h1v13h-1zM537 203h1v10h-1zM538 203h1v12h-1zM539 204h1v9h-1zM540 203h1v10h-1zM541 202h1v9h-1zM542 201h1v9h-1zM543 199h1v10h-1zM544 198h2v11h-2zM546 195h1v13h-1zM547 195h1v14h-1zM548 195h1v17h-1zM549 199h1v13h-1zM550 202h1v8h-1zM551 202h1v9h-1zM552 201h1v12h-1zM553 202h1v13h-1zM554 204h1v11h-1zM555 204h1v13h-1zM556 206h1v12h-1zM557 207h1v11h-1zM558 210h1v8h-1zM559 211h1v6h-1zM560 210h1v8h-1zM561 210h1v9h-1zM562 210h1v8h-1zM563 211h1v8h-1zM564 212h1v6h-1zM565 211h1v9h-1zM566 212h1v7h-1zM567 212h1v6h-1zM568 211h1v8h-1zM569 213h1v6h-1zM570 213h1v5h-1zM571 212h1v7h-1zM572 210h1v9h-1z"/>
</g>
<g>
<text transform="translate(505.6 1582) scale(1.06 1)" font-size="113" text-anchor="middle">20</text><text transform="translate(957.8 1582) scale(1.06 1)" font-size="113" text-anchor="middle">40</text><text transform="translate(1410 1582) scale(1.06 1)" font-size="113" text-anchor="middle">60</text><text transform="translate(1862.3 1582) scale(1.06 1)" font-size="113" text-anchor="middle">80</text>
<text x="741.5" y="1680" font-size="109" font-weight="bold" textLength="795" lengthAdjust="spacing">2 Theta (degree)</text>
<text transform="translate(104.5 1088) rotate(-90)" font-size="114" font-weight="bold" letter-spacing="0.1" word-spacing="3.5">Intensity / a.u.</text>
<text x="864.5" y="126.2" font-size="66" font-weight="bold" stroke="#fff" stroke-width="1.3" textLength="220.5" lengthAdjust="spacing">Pt(111)</text><text x="1058.0" y="445.3" font-size="66" font-weight="bold" stroke="#fff" stroke-width="1.3" textLength="217.0" lengthAdjust="spacing">Pt(200)</text><text x="556.0" y="656.3" font-size="66" font-weight="bold" stroke="#fff" stroke-width="1.3" textLength="204.5" lengthAdjust="spacing">C(002)</text><text x="1491.0" y="583.4" font-size="66" font-weight="bold" stroke="#fff" stroke-width="1.3" textLength="219.5" lengthAdjust="spacing">Pt(220)</text><text x="1756.0" y="583.4" font-size="66" font-weight="bold" stroke="#fff" stroke-width="1.3" textLength="218.5" lengthAdjust="spacing">Pt(311)</text><text x="1847.0" y="474.5" font-size="66" font-weight="bold" stroke="#fff" stroke-width="1.3" textLength="219.0" lengthAdjust="spacing">Pt(222)</text>
</g>
</svg>
</body></html>
